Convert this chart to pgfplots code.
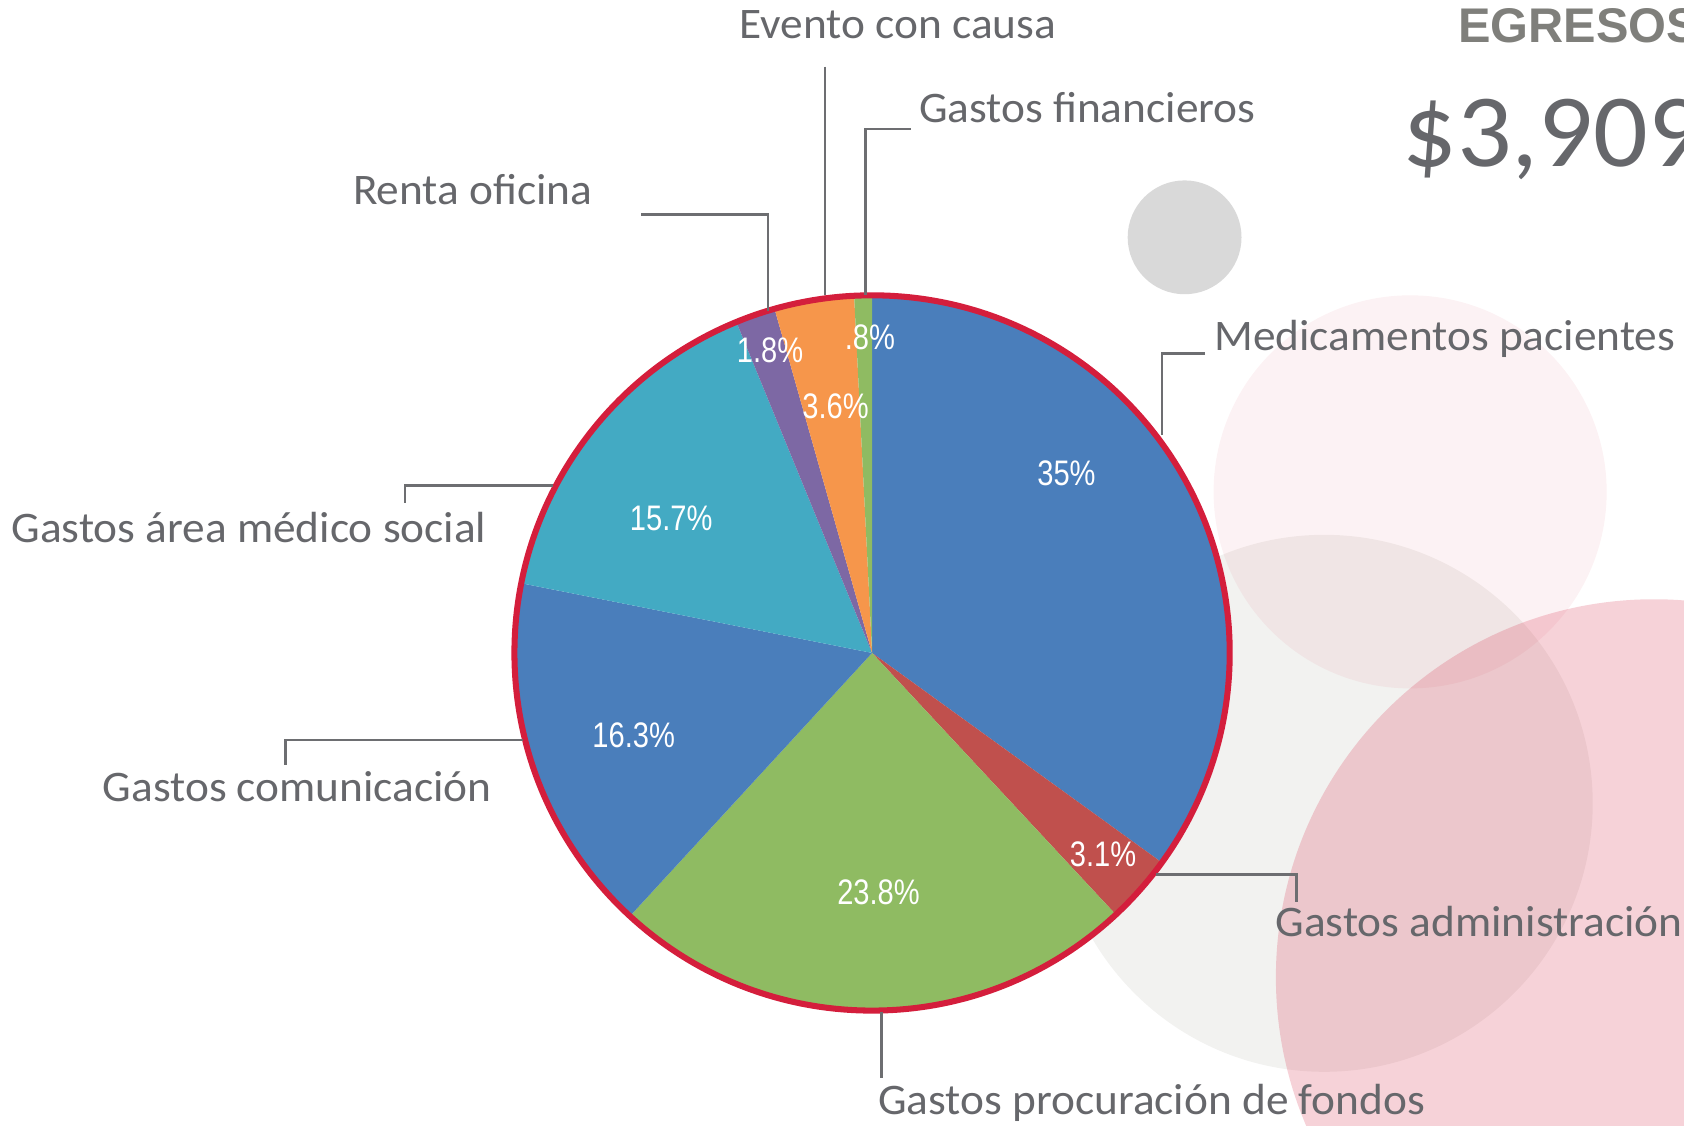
\documentclass[border=0pt]{standalone}
\usepackage{fontspec}
\setmainfont[FakeStretch=1.04]{Carlito}
\newfontfamily\arialbf{Liberation Sans}
\newfontfamily\narrowf[FakeStretch=0.82]{Liberation Sans}
\usepackage{pgfplots}
\pgfplotsset{compat=1.18}

\definecolor{slblue}{HTML}{4A7EBB}
\definecolor{slred}{HTML}{C0504D}
\definecolor{slgreen}{HTML}{8FBB62}
\definecolor{slteal}{HTML}{43AAC3}
\definecolor{slpurple}{HTML}{7D68A4}
\definecolor{slorange}{HTML}{F6964B}
\definecolor{crim}{HTML}{D41E3C}
\definecolor{bggrey}{HTML}{F2F2F0}
\definecolor{dotgrey}{HTML}{D9D9D9}
\definecolor{txtgrey}{HTML}{66676B}
\definecolor{linegrey}{HTML}{6D6E71}
\definecolor{titlegrey}{HTML}{7F7F7B}

\begin{document}
\begin{tikzpicture}
\begin{axis}[
  width=15.68cm, height=10.48cm, scale only axis,
  xmin=0, xmax=1568, ymin=0, ymax=1048,
  hide axis, clip=true, disabledatascaling,
  ]
  % background bubbles
  \fill[dotgrey] (axis cs:1103,827) circle[radius=53];
  \fill[bggrey] (axis cs:1233,300) circle[radius=250];
  \fill[crim, opacity=0.06] (axis cs:1313,590) circle[radius=183];
  \fill[crim, opacity=0.2] (axis cs:1540,138) circle[radius=352];

  % pie slices, clockwise from the top (percent / colour)
  \gdef\angstart{90}
  \foreach \p/\c in {35/slblue, 3.1/slred, 23.8/slgreen, 16.3/slblue,
                     15.7/slteal, 1.8/slpurple, 3.6/slorange, 0.8/slgreen}{
    \pgfmathsetmacro\angend{\angstart-\p*360/100.1}
    \edef\temp{\noexpand\fill[\c] (axis cs:812,440) --
      (axis cs:{812+333*cos(\angstart)},{440+333*sin(\angstart)})
      arc[start angle=\angstart, end angle=\angend, radius=3.33cm] -- cycle;}
    \temp
    \xdef\angstart{\angend}
  }
  \draw[crim, line width=1.6pt] (axis cs:812,440) circle[radius=333];

  % percent labels
  \begin{scope}[every node/.style={white, inner sep=0pt,
      font=\narrowf\fontsize{9.4}{11}\selectfont}]
    \node at (axis cs:993,607) {35\%};
    \node at (axis cs:1027,253) {3.1\%};
    \node at (axis cs:818,217) {23.8\%};
    \node at (axis cs:590,363) {16.3\%};
    \node at (axis cs:625,565) {15.7\%};
    \node at (axis cs:717,722) {1.8\%};
    \node at (axis cs:778,670) {3.6\%};
    \node at (axis cs:810,734) {.8\%};
  \end{scope}

  % leader lines
  \begin{scope}[linegrey, line width=0.7pt]
    \draw (axis cs:768,986) -- (axis cs:768,773);
    \draw (axis cs:848,928) -- (axis cs:806,928) -- (axis cs:806,773);
    \draw (axis cs:597,848) -- (axis cs:715,848) -- (axis cs:715,758);
    \draw (axis cs:1122,719) -- (axis cs:1082,719) -- (axis cs:1082,643);
    \draw (axis cs:377,580) -- (axis cs:377,596) -- (axis cs:515,596);
    \draw (axis cs:266,336) -- (axis cs:266,359) -- (axis cs:487,359);
    \draw (axis cs:1076,234) -- (axis cs:1207,234) -- (axis cs:1207,208);
    \draw (axis cs:821,106) -- (axis cs:821,44);
  \end{scope}

  % category labels
  \begin{scope}[every node/.style={txtgrey, inner sep=0pt, anchor=base west,
      font=\fontsize{11.55}{13}\selectfont}]
    \node at (axis cs:688,1012) {Evento con causa};
    \node at (axis cs:855,934) {Gastos financieros};
    \node at (axis cs:328,858) {Renta oficina};
    \node at (axis cs:1130,722) {Medicamentos pacientes};
    \node at (axis cs:10,543) {Gastos área médico social};
    \node at (axis cs:95,302) {Gastos comunicación};
    \node at (axis cs:1187,176) {Gastos administración};
    \node at (axis cs:817,10) {Gastos procuración de fondos};
  \end{scope}

  % title
  \node[titlegrey, inner sep=0pt, anchor=base west,
    font=\arialbf\bfseries\fontsize{12.9}{14}\selectfont] at (axis cs:1357,1008) {EGRESOS};
  \node[txtgrey, inner sep=0pt, anchor=base west,
    font=\fontsize{27.5}{30}\selectfont] at (axis cs:1305,893) {\$3,909};
\end{axis}
\pgfresetboundingbox
\path[use as bounding box] (current axis.south west) rectangle (current axis.north east);
\end{tikzpicture}
\end{document}
